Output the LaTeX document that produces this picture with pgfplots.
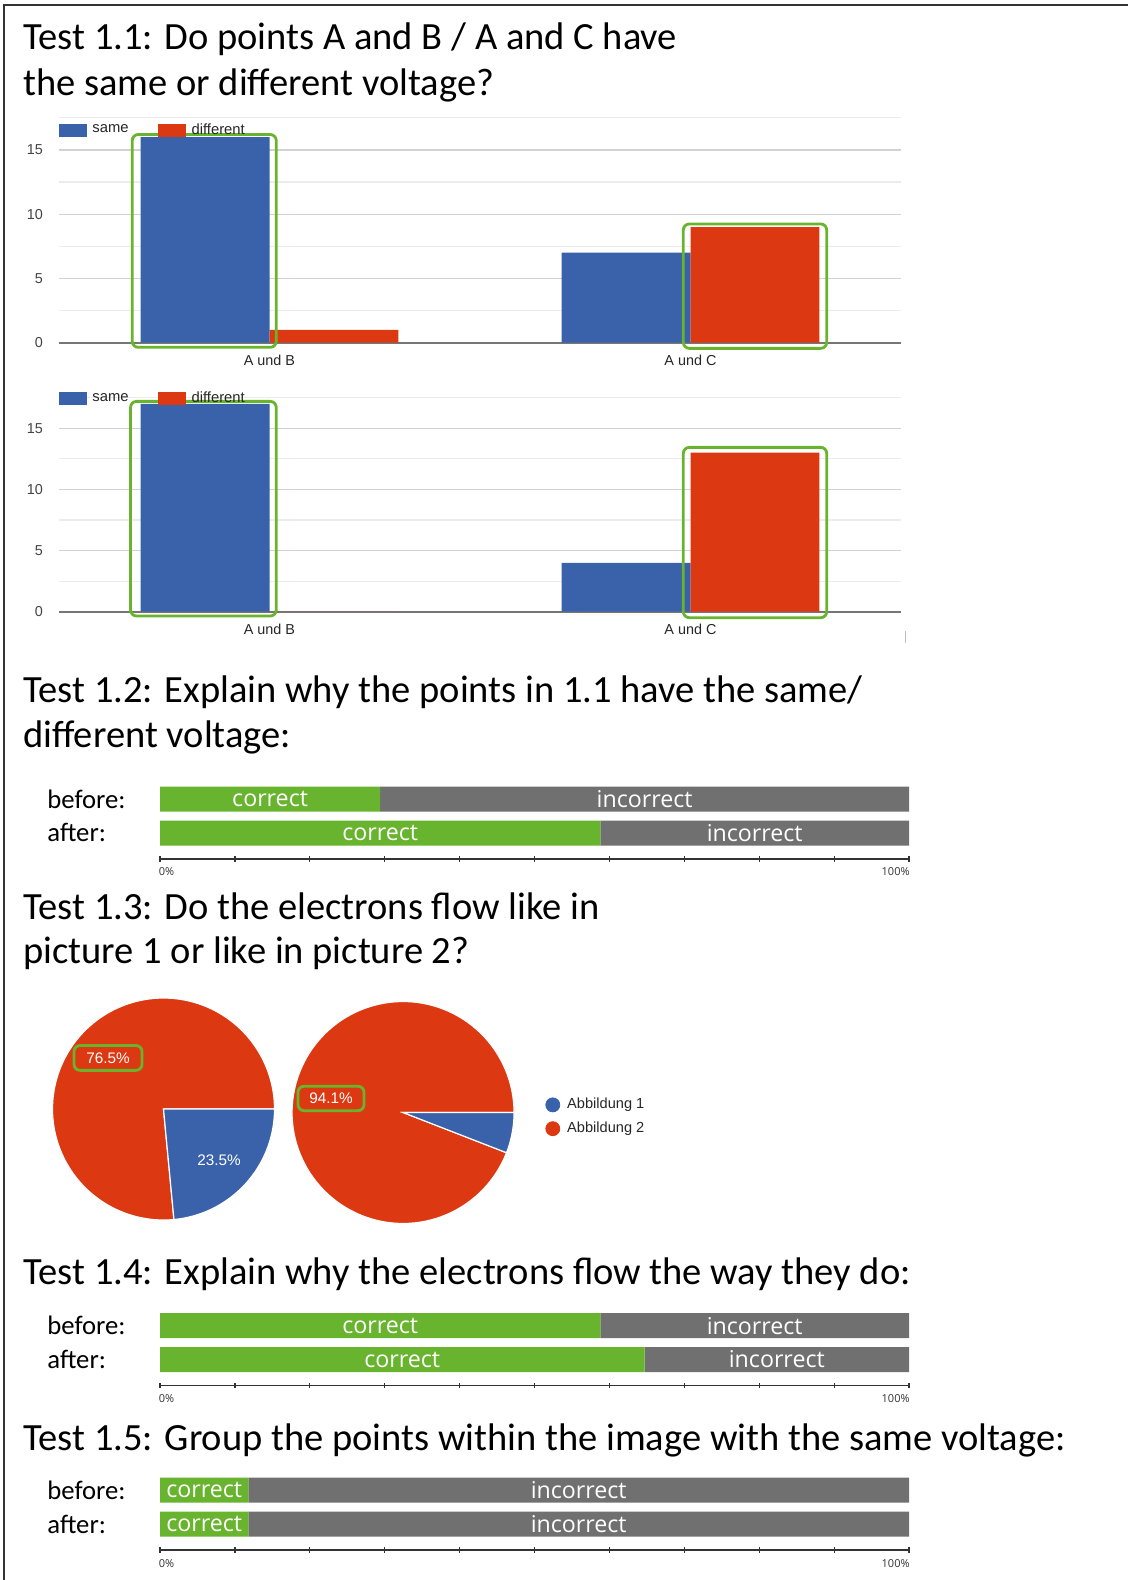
\documentclass[border=0pt]{standalone}
\usepackage{pgfplots}
\pgfplotsset{compat=1.18}
\usepackage{fontspec}
\setmainfont{Carlito}
\newfontfamily\chartfont{Liberation Sans}
\newfontfamily\barfont{Open Sans}

\definecolor{sameblue}{HTML}{3A62AA}
\definecolor{diffred}{HTML}{DC3912}
\definecolor{hlgreen}{HTML}{6AB42D}
\definecolor{okgreen}{HTML}{69B42E}
\definecolor{badgray}{HTML}{707070}
\definecolor{gridmaj}{HTML}{D2D2D2}
\definecolor{gridmin}{HTML}{ECECEC}
\definecolor{zeroline}{HTML}{767676}
\definecolor{ticktext}{HTML}{444444}
\definecolor{axisdark}{HTML}{333333}
\definecolor{framegray}{HTML}{333333}

\tikzset{
  title/.style={anchor=base west, inner sep=0pt, font=\fontsize{19.25}{23}\selectfont},
  rowlabel/.style={anchor=base west, inner sep=0pt, font=\fontsize{13.35}{15}\selectfont},
  barlabel/.style={inner sep=0pt, text=white, font=\barfont\fontsize{11.6}{13}\selectfont},
  pctlabel/.style={inner sep=0pt, text=axisdark, font=\barfont\fontsize{5.5}{6}\selectfont},
  highlight/.style={draw=hlgreen, line width=1.4pt, rounded corners=3pt},
}

\pgfplotsset{
  % grouped vertical bars: same / different answers
  votebars/.style={
    width=421pt, scale only axis, clip=false,
    xmin=-0.5, xmax=1.5, ymin=0, ymax=17.5,
    axis x line*=bottom, axis y line*=left,
    x axis line style={draw=zeroline, line width=1pt, -},
    y axis line style={draw=none},
    major tick length=0pt, minor tick length=0pt,
    xtick={0,1}, xticklabels={A und B, A und C},
    ytick={0,5,10,15}, minor ytick={2.5,7.5,12.5,17.5},
    ymajorgrids, yminorgrids,
    major grid style={draw=gridmaj, line width=0.6pt},
    minor grid style={draw=gridmin, line width=0.6pt},
    /pgf/number format/assume math mode=true,
    yticklabel style={font=\chartfont\fontsize{7.2}{8}\selectfont, text=ticktext,
      inner sep=0pt, anchor=east, xshift=-7.8pt},
    xticklabel style={font=\chartfont\fontsize{7.2}{8}\selectfont, text=black!85,
      inner sep=0pt, anchor=center, yshift=-8.6pt},
    legend columns=2,
    legend image code/.code={\fill[##1] (0pt,-3.3pt) rectangle (14pt,3.3pt);},
    legend style={draw=none, fill=none, inner sep=0pt, outer sep=0pt,
      nodes={inner sep=0pt}, font=\chartfont\fontsize{7.4}{8}\selectfont, text=black!85,
      /tikz/every odd column/.append style={column sep=2.7pt},
      /tikz/every even column/.append style={column sep=14.8pt}},
  },
  % 100% stacked horizontal bars: before / after
  hbars/.style={
    width=374.5pt, height=38.35pt, scale only axis, clip=false,
    xmin=0, xmax=100, ymin=-0.769, ymax=1.5,
    xbar stacked, bar width=0.74,
    axis x line*=bottom, axis y line=none,
    x axis line style={draw=axisdark, line width=0.8pt, -},
    xtick={0,10,...,100}, xticklabels={},
    tick align=center, major tick length=2.6pt,
    tick style={draw=axisdark, line width=0.6pt},
    ytick=\empty,
  },
  % segment captions, written once the stacked bars are drawn
  % #1 before correct, #2 after correct
  barcaptions/.style n args={2}{
    after end axis/.append code={
      \pgfmathsetmacro\cBa{#1/2}\pgfmathsetmacro\iBa{(#1+100)/2}
      \pgfmathsetmacro\cAf{#2/2}\pgfmathsetmacro\iAf{(#2+100)/2}
      \node[barlabel] at (axis cs:\cBa,1) {correct};
      \node[barlabel] at (axis cs:\iBa,1) {incorrect};
      \node[barlabel] at (axis cs:\cAf,0) {correct};
      \node[barlabel] at (axis cs:\iAf,0) {incorrect};
    },
  },
}

% answer shares of the two pie charts (percent)
\def\picOneA{23.5}\def\picOneB{76.5}
\def\picTwoA{5.9}\def\picTwoB{94.1}
\pgfmathsetmacro\angOneA{3.6*\picOneA}
\pgfmathsetmacro\angOneB{3.6*\picOneB}
\pgfmathsetmacro\angTwoA{3.6*\picTwoA}
\pgfmathsetmacro\angTwoB{3.6*\picTwoB}

\begin{document}
\begin{tikzpicture}
\begin{scope}[x=0.5pt, y=-0.5pt]
  \useasboundingbox (0,0) rectangle (1128,1580);
  \draw[framegray, line width=1pt] (4,1580) -- (4,5) -- (1128,5);

  \node[title] at (23,49) {Test 1.1: Do points A and B / A and C have};
  \node[title] at (23,95.7) {the same or different voltage?};
  \node[title] at (23,702.7) {Test 1.2: Explain why the points in 1.1 have the same/};
  \node[title] at (23,747.3) {different voltage:};
  \node[title] at (23,919.3) {Test 1.3: Do the electrons flow like in};
  \node[title] at (23,963.3) {picture 1 or like in picture 2?};
  \node[title] at (23,1284.5) {Test 1.4: Explain why the electrons flow the way they do:};
  \node[title] at (23,1450) {Test 1.5: Group the points within the image with the same voltage:};

  \node[rowlabel] at (47,808.3) {before:};
  \node[rowlabel] at (47,841) {after:};
  \node[rowlabel] at (47,1334.5) {before:};
  \node[rowlabel] at (47,1368) {after:};
  \node[rowlabel] at (47,1499) {before:};
  \node[rowlabel] at (47,1533) {after:};

  \node[pctlabel, anchor=west] at (158.5,871.7) {0\%};
  \node[pctlabel, anchor=east] at (910,871.7) {100\%};
  \node[pctlabel, anchor=west] at (158.5,1398.3) {0\%};
  \node[pctlabel, anchor=east] at (910,1398.3) {100\%};
  \node[pctlabel, anchor=west] at (158.5,1564) {0\%};
  \node[pctlabel, anchor=east] at (910,1564) {100\%};

  \draw[black!25, line width=0.5pt] (905,631) -- (905,643);
\end{scope}

% ---------- Test 1.1, first survey ----------
\begin{axis}[votebars, at={(29.5pt,-171.35pt)}, anchor=south west, height=112.45pt,
  legend style={at={(rel axis cs:0,0.945)}, anchor=west}]
  \addplot[ybar, bar width=0.306, bar shift=-0.153, fill=sameblue, draw=none]
    coordinates {(0,16) (1,7)};
  \addlegendentry{same}
  \addplot[ybar, bar width=0.306, bar shift=0.153, fill=diffred, draw=none]
    coordinates {(0,1) (1,9)};
  \addlegendentry{different}
  \draw[highlight] (axis cs:-0.326,-0.36) rectangle (axis cs:0.016,16.2);
  \draw[highlight] (axis cs:0.983,-0.44) rectangle (axis cs:1.3235,9.24);
\end{axis}

% ---------- Test 1.1, second survey ----------
\begin{axis}[votebars, at={(29.5pt,-305.85pt)}, anchor=south west, height=107pt,
  legend style={at={(rel axis cs:0,0.995)}, anchor=west}]
  \addplot[ybar, bar width=0.306, bar shift=-0.153, fill=sameblue, draw=none]
    coordinates {(0,17) (1,4)};
  \addlegendentry{same}
  \addplot[ybar, bar width=0.306, bar shift=0.153, fill=diffred, draw=none]
    coordinates {(0,0) (1,13)};
  \addlegendentry{different}
  \draw[highlight] (axis cs:-0.330,-0.35) rectangle (axis cs:0.016,17.2);
  \draw[highlight] (axis cs:0.983,-0.49) rectangle (axis cs:1.3235,13.44);
\end{axis}

% ---------- Test 1.2 ----------
\begin{axis}[hbars, at={(80pt,-429.5pt)}, anchor=south west, barcaptions={29.4}{58.8}]
  \addplot[fill=okgreen, draw=none] coordinates {(29.4,1) (58.8,0)};
  \addplot[fill=badgray, draw=none] coordinates {(70.6,1) (41.2,0)};
\end{axis}

% ---------- Test 1.3, pie charts ----------
\begin{axis}[at={(26.25pt,-610pt)}, anchor=south west, width=231pt, height=111pt,
  scale only axis, xmin=-1, xmax=3.162, ymin=-1, ymax=1, hide axis, clip=false,
  legend style={at={(rel axis cs:1.066,0.465)}, anchor=west, draw=none, fill=none,
    inner sep=0pt, nodes={inner sep=0pt}, font=\chartfont\fontsize{7.3}{8}\selectfont,
    text=black!85, row sep=4.5pt,
    /tikz/every odd column/.append style={column sep=3.5pt}}]
  % left pie
  \addplot[forget plot, fill=diffred, draw=white, line width=0.6pt,
    domain=0:\angOneB, samples=120, variable=\t]
    ({cos(\t)}, {sin(\t)}) -- (axis cs:0,0) -- cycle;
  \addplot[forget plot, fill=sameblue, draw=white, line width=0.6pt,
    domain=-\angOneA:0, samples=60, variable=\t]
    ({cos(\t)}, {sin(\t)}) -- (axis cs:0,0) -- cycle;
  % right pie
  \addplot[forget plot, fill=diffred, draw=white, line width=0.6pt,
    domain=0:\angTwoB, samples=120, variable=\t]
    ({2.158+cos(\t)}, {-0.0315+sin(\t)}) -- (axis cs:2.158,-0.0315) -- cycle;
  \addplot[forget plot, fill=sameblue, draw=white, line width=0.6pt,
    domain=-\angTwoA:0, samples=30, variable=\t]
    ({2.158+cos(\t)}, {-0.0315+sin(\t)}) -- (axis cs:2.158,-0.0315) -- cycle;

  \node[highlight, inner sep=0pt, minimum width=34pt, minimum height=12.4pt,
    text=white, font=\chartfont\fontsize{7.65}{8}\selectfont]
    at (axis cs:-0.5,0.46) {\picOneB\%};
  \node[inner sep=0pt, text=white, font=\chartfont\fontsize{7.65}{8}\selectfont]
    at (axis cs:0.5,-0.464) {\picOneA\%};
  \node[highlight, inner sep=0pt, minimum width=33pt, minimum height=12.2pt,
    text=white, font=\chartfont\fontsize{7.65}{8}\selectfont]
    at (axis cs:1.509,0.095) {\picTwoB\%};

  \addlegendimage{legend image code/.code={\fill[sameblue] (3.5pt,0pt) circle (3.5pt);}}
  \addlegendentry{Abbildung 1}
  \addlegendimage{legend image code/.code={\fill[diffred] (3.5pt,0pt) circle (3.5pt);}}
  \addlegendentry{Abbildung 2}
\end{axis}

% ---------- Test 1.4 ----------
\begin{axis}[hbars, at={(80pt,-692.75pt)}, anchor=south west, barcaptions={58.8}{64.7}]
  \addplot[fill=okgreen, draw=none] coordinates {(58.8,1) (64.7,0)};
  \addplot[fill=badgray, draw=none] coordinates {(41.2,1) (35.3,0)};
\end{axis}

% ---------- Test 1.5 ----------
\begin{axis}[hbars, at={(80pt,-775pt)}, anchor=south west, barcaptions={11.8}{11.8}]
  \addplot[fill=okgreen, draw=none] coordinates {(11.8,1) (11.8,0)};
  \addplot[fill=badgray, draw=none] coordinates {(88.2,1) (88.2,0)};
\end{axis}
\end{tikzpicture}
\end{document}
